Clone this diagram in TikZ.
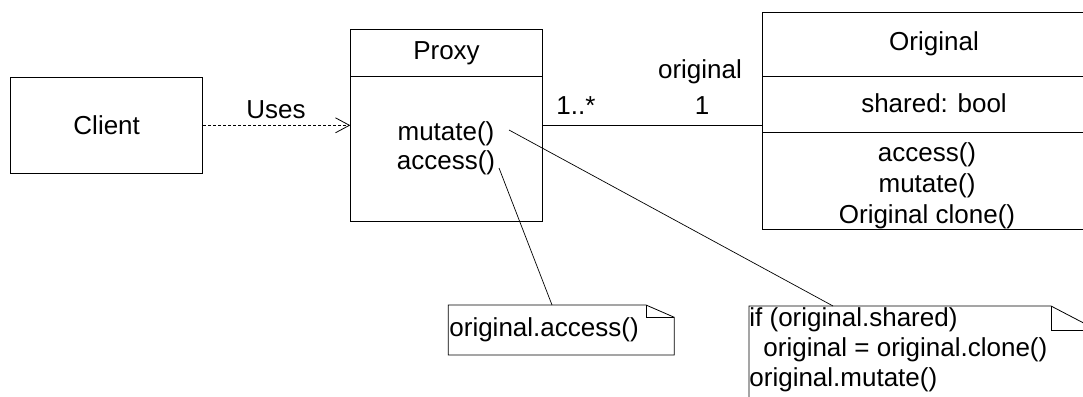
\documentclass[tikz,border=0pt]{standalone}
\usepackage{fontspec}
\setmainfont{Liberation Sans}
\usetikzlibrary{arrows.meta}
\begin{document}
\begin{tikzpicture}[x=1pt, y=-1pt, line width=0.8pt,
  box/.style={draw, rectangle, inner sep=0pt},
  txt/.style={inner sep=0pt, font=\fontsize{26}{29}\selectfont, align=center},
  lefttxt/.style={inner sep=0pt, font=\fontsize{26}{30}\selectfont, align=left, anchor=west},
  uses/.style={dash pattern=on 3pt off 2pt, -{Straight Barb[length=14pt,width=15pt,line width=0.8pt]}},
  notelink/.style={line width=0.7pt}]
\useasboundingbox (0,0) rectangle (1083,396);

% Client class
\node[box, txt, minimum width=192pt, minimum height=96pt] (client) at (106.7,125.3) {Client};

% Proxy class
\node[box, minimum width=191.6pt, minimum height=191.7pt] (proxy) at (446.5,125.2) {};
\draw (proxy.west |- 0,76.7) -- (proxy.east |- 0,76.7);
\node[txt] (proxyname) at (446.5,53) {Proxy};
\node[txt] (proxyops) at (446,148.5) {mutate()\\access()};
\coordinate (mutEnd) at (509,130);
\coordinate (accEnd) at (499,168);

% Original class
\node[box, minimum width=334.3pt, minimum height=217.3pt] (original) at (929.85,120.65) {};
\draw (original.west |- 0,76) -- (original.east |- 0,76);
\draw (original.west |- 0,132.7) -- (original.east |- 0,132.7);
\node[txt] (origname) at (934,44) {Original};
\node[txt] (origattr) at (934,103) {shared: bool};
\node[txt, font=\fontsize{26}{31}\selectfont] (origops) at (927,186) {access()\\mutate()\\Original clone()};

% Client uses Proxy
\draw[uses] (client.east) -- (proxy.west |- client.east);
\node[txt] (useslabel) at (276,110) {Uses};

% Association Proxy -> Original
\draw (proxy.east |- 0,125) -- (original.west |- 0,125);
\node[txt] (multmany) at (576,106) {1..*};
\node[txt] (rolename) at (700,72) {original};
\node[txt] (multone) at (702,106) {1};

% Note for access()
\draw (448.3,305) -- (646,305) -- (674.3,317.3) -- (674.3,355) -- (448.3,355) -- cycle;
\draw (646,305) -- (646,317.3) -- (674.3,317.3);
\node[lefttxt] (note1) at (449,330) {original.access()};
\coordinate (note1top) at (552,305);
\draw[notelink] (accEnd) -- (note1top);

% Note for mutate()
\draw (749,420) -- (749,306) -- (1051,306) -- (1097,330) -- (1097,420);
\draw (1051,306) -- (1051,330) -- (1097,330);
\node[lefttxt] (note2) at (749,350) {if (original.shared)\\\hspace*{14pt}original = original.clone()\\original.mutate()};
\coordinate (note2top) at (833,306);
\draw[notelink] (mutEnd) -- (note2top);
\end{tikzpicture}
\end{document}
